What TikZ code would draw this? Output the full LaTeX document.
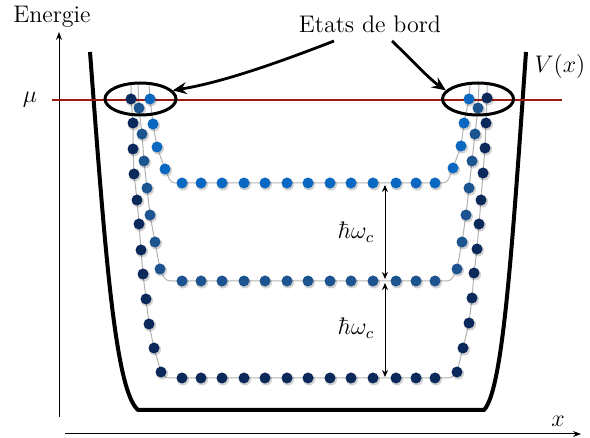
\documentclass[tikz,border=0pt]{standalone}
\usetikzlibrary{arrows.meta,shapes.geometric}
\definecolor{dotdark}{HTML}{0B2A5B}
\definecolor{dotmid}{HTML}{1C5490}
\definecolor{dotlight}{HTML}{0A68C0}
\definecolor{fermired}{HTML}{9B1B12}
\begin{document}
\begin{tikzpicture}[x=0.5pt,y=-0.5pt,
  lbl/.style={font=\fontsize{12}{14}\selectfont, inner sep=0pt},
  axis/.style={line width=0.5pt,-{Stealth[length=4pt,width=3pt]}},
  chainline/.style={line width=0.5pt, gray!60, rounded corners=2pt},
  dotshadow/.style={fill=black, opacity=0.18},
  edgebox/.style={ellipse, draw=black, line width=1.5pt, minimum width=35.5pt, minimum height=16pt, inner sep=0pt},
  bigarrow/.style={line width=1.4pt, -{Stealth[length=7pt,width=6pt,inset=2.5pt]}},
  gaparrow/.style={line width=0.5pt, {Stealth[length=3.5pt,width=3pt]}-{Stealth[length=3.5pt,width=3pt]}},
  potential/.style={line width=2pt, black, line join=round}
]
\useasboundingbox (0,0) rectangle (590,438);

% lists of dot positions
\def\chainAL{131/99,133/123,133/149,134/174,137/200,139/224,141/250,143/274,146/299,149/324,154/348,161/372}
\def\chainAR{457/372,463/348,469/323,472/298,474/273,477/249,479/224,481/200,483/173,485/148,486/123,487/98}
\def\chainBL{139/108,142/134,144/161,147/188,150/215,155/242,160/269}
\def\chainBR{457/269,462/242,466/215,469/188,472/161,475/134,478/108}
\def\chainCL{150/99,153/124,157/147,165/169}
\def\chainCR{453/168,461/146,464/123,469/99}
\def\rowxs{182,201,222,244,265,287,308,330,351,373,396,416,435}

% axes
\coordinate (yaxis0) at (59,417);
\coordinate (yaxis1) at (59,32);
\coordinate (xaxis0) at (65,434);
\coordinate (xaxis1) at (581,434);
\draw[axis] (yaxis0) -- (yaxis1);
\draw[axis] (xaxis0) -- (xaxis1);
\node[lbl, anchor=base] (energie) at (52,23) {Energie};
\node[lbl] (xlabel) at (558,421) {$x$};
\node[lbl] (mu) at (30,100) {$\mu$};

% potential
\draw[potential] (90,52) .. controls (105,250) and (115,390) .. (138,410)
  -- (484,410) .. controls (503,390) and (512,250) .. (526,52);
\node[lbl] (vx) at (560,67) {$V(x)$};

% chain lines
\draw[chainline] (131,84) foreach \x/\y in \chainAL {-- (\x,\y)} -- (165,378) -- (452,378)
  foreach \x/\y in \chainAR {-- (\x,\y)} -- (487,84);
\draw[chainline] (138,84) foreach \x/\y in \chainBL {-- (\x,\y)} -- (166,281) -- (451,281)
  foreach \x/\y in \chainBR {-- (\x,\y)} -- (479,84);
\draw[chainline] (149,84) foreach \x/\y in \chainCL {-- (\x,\y)} -- (171,183) -- (447,183)
  foreach \x/\y in \chainCR {-- (\x,\y)} -- (470,84);

% Fermi level
\coordinate (mu0) at (52,100);
\coordinate (mu1) at (562,100);
\draw[fermired, line width=1.3pt] (mu0) -- (mu1);

% shadows
\foreach \x/\y in \chainAL {\fill[dotshadow] (\x+1,\y+1.5) circle (6);}
\foreach \x/\y in \chainAR {\fill[dotshadow] (\x+1,\y+1.5) circle (6);}
\foreach \x/\y in \chainBL {\fill[dotshadow] (\x+1,\y+1.5) circle (6);}
\foreach \x/\y in \chainBR {\fill[dotshadow] (\x+1,\y+1.5) circle (6);}
\foreach \x/\y in \chainCL {\fill[dotshadow] (\x+1,\y+1.5) circle (6);}
\foreach \x/\y in \chainCR {\fill[dotshadow] (\x+1,\y+1.5) circle (6);}
\foreach \x in \rowxs {
  \fill[dotshadow] (\x+1,379.5) circle (6);
  \fill[dotshadow] (\x+1,282.5) circle (6);
  \fill[dotshadow] (\x+1,184.5) circle (6);
}

% dots
\foreach \x/\y in \chainAL {\fill[dotdark] (\x,\y) circle (5.5);}
\foreach \x/\y in \chainAR {\fill[dotdark] (\x,\y) circle (5.5);}
\foreach \x in \rowxs {\fill[dotdark] (\x,378) circle (5.5);}
\foreach \x/\y in \chainBL {\fill[dotmid] (\x,\y) circle (5.5);}
\foreach \x/\y in \chainBR {\fill[dotmid] (\x,\y) circle (5.5);}
\foreach \x in \rowxs {\fill[dotmid] (\x,281) circle (5.5);}
\foreach \x/\y in \chainCL {\fill[dotlight] (\x,\y) circle (5.5);}
\foreach \x/\y in \chainCR {\fill[dotlight] (\x,\y) circle (5.5);}
\foreach \x in \rowxs {\fill[dotlight] (\x,183) circle (5.5);}

% level spacing arrows
\coordinate (lvl3) at (385,185);
\coordinate (lvl2a) at (385,279);
\coordinate (lvl2b) at (385,283);
\coordinate (lvl1) at (385,377);
\draw[gaparrow] (lvl3) -- (lvl2a);
\draw[gaparrow] (lvl2b) -- (lvl1);
\node[lbl] (hw1) at (356,232) {$\hbar\omega_c$};
\node[lbl] (hw2) at (356,328) {$\hbar\omega_c$};

% edge-state ellipses
\node[edgebox] (edgeL) at (140.5,99) {};
\node[edgebox] (edgeR) at (478,99) {};

% label and arrows
\node[lbl, anchor=base] (etats) at (370,33) {Etats de bord};
\coordinate (sL) at (334,41);
\coordinate (sR) at (392,41);
\draw[bigarrow] (sL) .. controls (285,60) and (225,82) .. (edgeL.15);
\draw[bigarrow] (sR) .. controls (410,58) and (428,78) .. (edgeR.165);
\end{tikzpicture}
\end{document}
